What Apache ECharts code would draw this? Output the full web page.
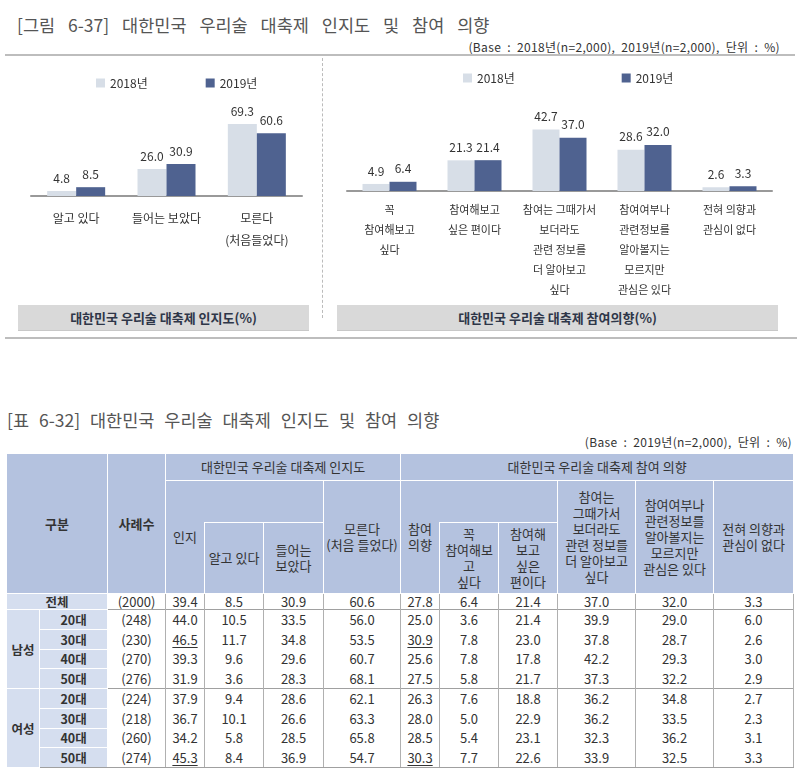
<!DOCTYPE html>
<html>
<head>
<meta charset="utf-8">
<script src="https://cdn.jsdelivr.net/npm/echarts@6/dist/echarts.min.js"></script>
<style>
  body { margin: 0; background: #fff; font-family: "Noto Sans CJK KR", sans-serif; color: #333; }
  #page { position: relative; width: 800px; height: 772px; overflow: hidden; }
  .title { position: absolute; left: 17px; font-size: 17.5px; color: #555; word-spacing: 9px; white-space: nowrap; line-height: 24px; }
  .base { position: absolute; font-size: 12px; color: #333; white-space: nowrap; line-height: 14px; word-spacing: 3px; letter-spacing: 0.35px; }
  .rule { position: absolute; left: 5px; height: 0; border-top: 2px solid #bdbdbd; }
  .divider { position: absolute; left: 322px; top: 58px; height: 260px; border-left: 1px dashed #bbb; }
  .foot { position: absolute; top: 305px; height: 25px; line-height: 25px; background: #d9d9d9; text-align: center;
          font-size: 13px; font-weight: bold; color: #2e3648; border-bottom: 1px solid #c8c8c8; }
  #chart { position: absolute; left: 0; top: 0; width: 800px; height: 300px; }
  table { position: absolute; left: 6px; top: 453px; width: 787px; border-collapse: collapse; table-layout: fixed; }
  th { background: #b4c2df; border: 1px solid #fff; font-size: 13px; font-weight: normal; line-height: 16px; padding: 0; color: #333; vertical-align: middle; }
  th.strong { font-weight: bold; }
  td { padding: 0; text-align: center; font-size: 12.5px; line-height: 15px; color: #333; }
  td.lab { background: #d5deef; border: 1px solid #fff; font-weight: bold; }
  td.num { font-family: "Liberation Sans Narrow", "Noto Sans CJK KR", sans-serif; font-size: 13px; border-left: 1px solid #b0b0b0; border-right: 1px solid #b0b0b0; }
  tr.sep td.num { border-top: 1px solid #a0a0a0; }
  tr.last td { border-bottom: 1px solid #a0a0a0; }
  u { text-underline-offset: 2px; }
</style>
</head>
<body>
<div id="page">
  <div class="title" style="top:13px">[그림 6-37] 대한민국 우리술 대축제 인지도 및 참여 의향</div>
  <div class="base" style="right:20px;top:40px">(Base : 2018년(n=2,000), 2019년(n=2,000), 단위 : %)</div>
  <div class="rule" style="top:54px;width:790px"></div>
  <div class="divider"></div>
  <div id="chart"></div>
  <div class="foot" style="left:18px;width:291px">대한민국 우리술 대축제 인지도(%)</div>
  <div class="foot" style="left:337px;width:441px">대한민국 우리술 대축제 참여의향(%)</div>
  <div class="rule" style="top:337px;width:792px"></div>

  <div class="title" style="left:7px;top:408px;word-spacing:6px">[표 6-32] 대한민국 우리술 대축제 인지도 및 참여 의향</div>
  <div class="base" style="right:8px;top:435px">(Base : 2019년(n=2,000), 단위 : %)</div>
  <table id="tbl"></table>
</div>
<script>
// chart data
const years = ['2018년', '2019년'];
const awareCats = ['알고 있다', '들어는 보았다', '모른다\n(처음들었다)'];
const aware2018 = [4.8, 26.0, 69.3];
const aware2019 = [8.5, 30.9, 60.6];
const intentCats = ['꼭\n참여해보고\n싶다', '참여해보고\n싶은 편이다', '참여는 그때가서\n보더라도\n관련 정보를\n더 알아보고\n싶다',
  '참여여부나\n관련정보를\n알아볼지는\n모르지만\n관심은 있다', '전혀 의향과\n관심이 없다'];
const intent2018 = [4.9, 21.3, 42.7, 28.6, 2.6];
const intent2019 = [6.4, 21.4, 37.0, 32.0, 3.3];

// table data
const groups = ['남성', '여성'];
const ages = ['20대', '30대', '40대', '50대'];
const sampleN = [2000, 248, 230, 270, 276, 224, 218, 260, 274];
const awareTotal = [39.4, 44.0, 46.5, 39.3, 31.9, 37.9, 36.7, 34.2, 45.3];
const knowWell = [8.5, 10.5, 11.7, 9.6, 3.6, 9.4, 10.1, 5.8, 8.4];
const heardOf = [30.9, 33.5, 34.8, 29.6, 28.3, 28.6, 26.6, 28.5, 36.9];
const unaware = [60.6, 56.0, 53.5, 60.7, 68.1, 62.1, 63.3, 65.8, 54.7];
const intentTotal = [27.8, 25.0, 30.9, 25.6, 27.5, 26.3, 28.0, 28.5, 30.3];
const mustJoin = [6.4, 3.6, 7.8, 7.8, 5.8, 7.6, 5.0, 5.4, 7.7];
const likelyJoin = [21.4, 21.4, 23.0, 17.8, 21.7, 18.8, 22.9, 23.1, 22.6];
const decideLater = [37.0, 39.9, 37.8, 42.2, 37.3, 36.2, 36.2, 32.3, 33.9];
const interestOnly = [32.0, 29.0, 28.7, 29.3, 32.2, 34.8, 33.5, 36.2, 32.5];
const noInterest = [3.3, 6.0, 2.6, 3.0, 2.9, 2.7, 2.3, 3.1, 3.3];
const underlinedRows = [2, 8]; // highest values in the two total columns

const c2018 = '#d7dee7';
const c2019 = '#4f6290';

function barSeries(name, data, idx, color, width) {
  return {
    name: name, type: 'bar', data: data, xAxisIndex: idx, yAxisIndex: idx,
    barWidth: width, barGap: '0%', itemStyle: { color: color },
    label: { show: true, position: 'top', distance: 7, fontSize: 12, color: '#333',
      formatter: p => p.value.toFixed(1) }
  };
}

const chart = echarts.init(document.getElementById('chart'));
chart.setOption({
  textStyle: { fontFamily: '"Noto Sans CJK KR", sans-serif' },
  animation: false,
  legend: [
    { data: years, left: 91, top: 72, itemWidth: 9, itemHeight: 9, itemGap: 58, icon: 'rect',
      textStyle: { fontSize: 12, color: '#333' } },
    { data: years, left: 458, top: 67, itemWidth: 9, itemHeight: 9, itemGap: 107, icon: 'rect',
      textStyle: { fontSize: 12, color: '#333' } }
  ],
  grid: [
    { left: 31, top: 113, width: 271, height: 83 },
    { left: 347, top: 119, width: 425, height: 74 }
  ],
  xAxis: [
    { type: 'category', gridIndex: 0, data: awareCats,
      axisLine: { lineStyle: { color: '#999', width: 2 } }, axisTick: { show: false },
      axisLabel: { interval: 0, fontSize: 12, color: '#333', lineHeight: 22, margin: 11 } },
    { type: 'category', gridIndex: 1, data: intentCats,
      axisLine: { lineStyle: { color: '#999', width: 2 } }, axisTick: { show: false },
      axisLabel: { interval: 0, fontSize: 11, color: '#333', lineHeight: 20, margin: 9 } }
  ],
  yAxis: [
    { type: 'value', gridIndex: 0, min: 0, max: 80, show: false },
    { type: 'value', gridIndex: 1, min: 0, max: 50, show: false }
  ],
  series: [
    barSeries(years[0], aware2018, 0, c2018, 29),
    barSeries(years[1], aware2019, 0, c2019, 29),
    barSeries(years[0], intent2018, 1, c2018, 27),
    barSeries(years[1], intent2019, 1, c2019, 27)
  ]
});

// table
const colW = [33, 68, 58, 39, 59, 60, 77, 39, 59, 59, 78, 78, 80];
const valueCols = [awareTotal, knowWell, heardOf, unaware, intentTotal, mustJoin, likelyJoin, decideLater, interestOnly, noInterest];
const totalCols = [0, 4];
let html = '<colgroup>' + colW.map(w => '<col style="width:' + w + 'px">').join('') + '</colgroup>';
html += '<tr style="height:27px"><th class="strong" colspan="2" rowspan="3">구분</th><th class="strong" rowspan="3">사례수</th>' +
  '<th colspan="4">대한민국 우리술 대축제 인지도</th><th colspan="6">대한민국 우리술 대축제 참여 의향</th></tr>';
html += '<tr style="height:42px"><th rowspan="2" style="border-right:none">인지</th><th colspan="2" style="border-left:none"></th>' +
  '<th rowspan="2">모른다<br>(처음 들었다)</th>' +
  '<th rowspan="2" style="border-right:none">참여<br>의향</th><th colspan="2" style="border-left:none"></th>' +
  '<th rowspan="2">참여는<br>그때가서<br>보더라도<br>관련 정보를<br>더 알아보고<br>싶다</th>' +
  '<th rowspan="2">참여여부나<br>관련정보를<br>알아볼지는<br>모르지만<br>관심은 있다</th>' +
  '<th rowspan="2">전혀 의향과<br>관심이 없다</th></tr>';
html += '<tr style="height:71px"><th>알고 있다</th><th>들어는<br>보았다</th>' +
  '<th>꼭<br>참여해보<br>고<br>싶다</th><th>참여해<br>보고<br>싶은<br>편이다</th></tr>';

function numCells(r) {
  let s = '<td class="num">(' + sampleN[r] + ')</td>';
  valueCols.forEach((col, ci) => {
    let v = col[r].toFixed(1);
    if (totalCols.includes(ci) && underlinedRows.includes(r)) v = '<u>' + v + '</u>';
    s += '<td class="num">' + v + '</td>';
  });
  return s;
}
html += '<tr style="height:15px"><td class="lab" colspan="2">전체</td>' + numCells(0) + '</tr>';
groups.forEach((g, gi) => {
  ages.forEach((a, ai) => {
    const r = 1 + gi * 4 + ai;
    let cls = [];
    if (ai === 0) cls.push('sep');
    if (gi === groups.length - 1 && ai === ages.length - 1) cls.push('last');
    html += '<tr class="' + cls.join(' ') + '" style="height:19.75px">';
    if (ai === 0) html += '<td class="lab" rowspan="4">' + g + '</td>';
    html += '<td class="lab">' + a + '</td>' + numCells(r) + '</tr>';
  });
});
document.getElementById('tbl').innerHTML = html;
</script>
</body>
</html>
